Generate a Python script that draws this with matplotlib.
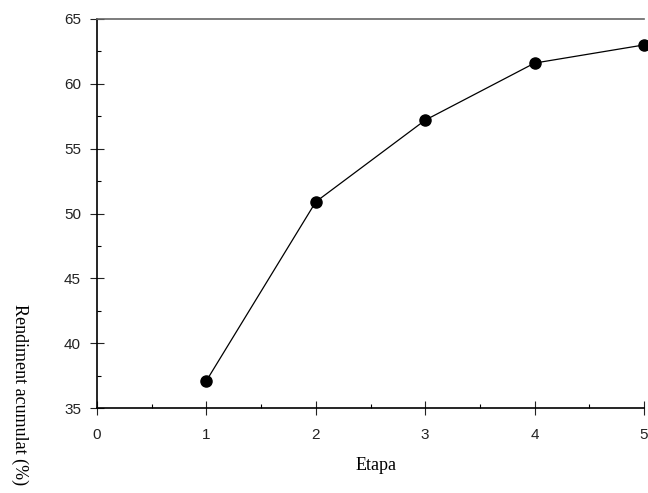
import matplotlib
matplotlib.use("Agg")
import matplotlib.pyplot as plt
from matplotlib.ticker import MultipleLocator

etapa = [1, 2, 3, 4, 5]
rendiment = [37.1, 50.9, 57.2, 61.6, 63.0]
xticks = [0, 1, 2, 3, 4, 5]
yticks = [35, 40, 45, 50, 55, 60, 65]

fig = plt.figure(figsize=(6.48, 4.93), dpi=100)
ax = fig.add_axes([97/648, 1-408/493, (644-97)/648, (408-19)/493])
ax.plot(etapa, rendiment, color="black", lw=0.9, marker="o", ms=8, clip_on=False, zorder=3)
ax.set_xlim(0, 5)
ax.set_ylim(35, 65)
ax.set_xticks(xticks)
ax.set_yticks(yticks)
ax.xaxis.set_minor_locator(MultipleLocator(0.5))
ax.yaxis.set_minor_locator(MultipleLocator(2.5))
ax.tick_params(which="major", direction="inout", length=10, width=0.8, labelsize=11, colors="#222222")
ax.tick_params(axis="x", which="major", pad=9.5)
ax.tick_params(axis="y", which="major", pad=6.5)
ax.tick_params(which="minor", direction="in", length=3, width=0.8)
for lab in ax.get_xticklabels() + ax.get_yticklabels():
    lab.set_fontfamily("Liberation Sans")
ax.spines["right"].set_visible(False)
ax.spines["top"].set_color("#666666")
ax.spines["top"].set_linewidth(1.2)
ax.spines["left"].set_linewidth(1.2)
ax.spines["bottom"].set_linewidth(1.2)
fig.text(376/648, 1-465/493, "Etapa", ha="center", va="center", fontsize=13, family="Liberation Serif")
fig.text(20/648, 1-304/493, "Rendiment acumulat (%)", ha="center", va="top", rotation=270,
         fontsize=13, family="Liberation Serif")
fig.savefig("out.png", dpi=100)
